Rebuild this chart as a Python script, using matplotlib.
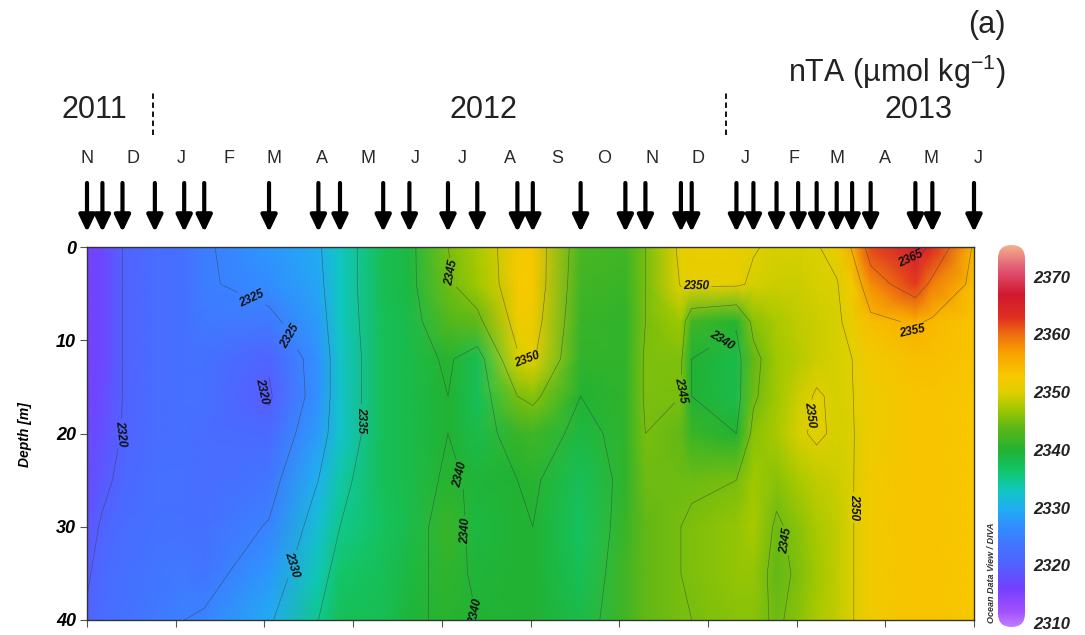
import matplotlib
matplotlib.use('Agg')
import matplotlib.pyplot as plt
import matplotlib.dates as mdates
from matplotlib.colors import LinearSegmentedColormap, Normalize
from matplotlib.patches import FancyBboxPatch
from matplotlib.ticker import LinearLocator
import numpy as np
import pandas as pd

plt.rcParams['font.family'] = ['Liberation Sans', 'DejaVu Sans']
plt.rcParams['mathtext.fontset'] = 'custom'
plt.rcParams['mathtext.rm'] = 'Liberation Sans'

# sampling dates (arrows on top) and nTA profiles at each station
station_dates = ['2011-11-01', '2011-11-11', '2011-11-24', '2011-12-15', '2012-01-03',
                 '2012-01-16', '2012-02-27', '2012-03-30', '2012-04-13', '2012-05-11',
                 '2012-05-28', '2012-06-22', '2012-07-11', '2012-08-06', '2012-08-16',
                 '2012-09-16', '2012-10-15', '2012-10-28', '2012-11-20', '2012-11-27',
                 '2012-12-26', '2013-01-06', '2013-01-21', '2013-02-04', '2013-02-16',
                 '2013-03-01', '2013-03-11', '2013-03-23', '2013-04-21', '2013-05-02',
                 '2013-05-29']
depths = [0, 4, 8, 12, 16, 20, 25, 30, 35, 40]
profiles = [
    [2316, 2316, 2316, 2316, 2316.5, 2317, 2317.5, 2318.5, 2319.5, 2320.5],
    [2317, 2317, 2317, 2317, 2317.5, 2318, 2319, 2320.5, 2321.5, 2322],
    [2320, 2320, 2320, 2320, 2320, 2320.2, 2321, 2322, 2322.5, 2323],
    [2322, 2322, 2322, 2322, 2322, 2322, 2322.5, 2323, 2323.5, 2324],
    [2323, 2323, 2323, 2323, 2322.5, 2322.5, 2322.5, 2323, 2324, 2325],
    [2324.5, 2324.5, 2324, 2323, 2322.5, 2322, 2322, 2322.5, 2323.5, 2325.5],
    [2327.5, 2326.5, 2324, 2320.5, 2319.5, 2321.5, 2323.5, 2325.3, 2327.5, 2329.5],
    [2329.5, 2329, 2328, 2327, 2327, 2328, 2330, 2332, 2333.5, 2335],
    [2333, 2333, 2333, 2332.5, 2332.5, 2332.5, 2334, 2335, 2336.5, 2337.5],
    [2338, 2338, 2337.5, 2337.5, 2337.5, 2337.5, 2337.5, 2337, 2337.5, 2338],
    [2339, 2339, 2338.5, 2338.5, 2338.5, 2338.5, 2338.5, 2338.5, 2339, 2339.5],
    [2345, 2344.5, 2343, 2340.5, 2340, 2340, 2340.5, 2341.5, 2341, 2340.5],
    [2347.5, 2347, 2344, 2338, 2337.5, 2338.5, 2339.5, 2339, 2339.5, 2340],
    [2352.5, 2352.5, 2351.5, 2349.5, 2345, 2341.5, 2340, 2340, 2340, 2340],
    [2353, 2353, 2352, 2350.5, 2346, 2342, 2340.5, 2340, 2340, 2340],
    [2342.5, 2342, 2341.5, 2341, 2340, 2339, 2337.5, 2337, 2337.5, 2338.5],
    [2342, 2341.5, 2341, 2341, 2341, 2341, 2341, 2341.5, 2342, 2342],
    [2345, 2345, 2345, 2345.5, 2345.5, 2345, 2344.5, 2344, 2344, 2344],
    [2350.8, 2350.2, 2347, 2345.5, 2345, 2344, 2344.5, 2345, 2345, 2345],
    [2351, 2350.5, 2342, 2340, 2340, 2341.5, 2344.5, 2345.5, 2345.5, 2345],
    [2351, 2350.5, 2340.5, 2338.5, 2338.5, 2340, 2345, 2346.5, 2346.5, 2346],
    [2350.2, 2349.5, 2346, 2344, 2344.5, 2346, 2347, 2347.5, 2346.5, 2346],
    [2349.5, 2349, 2347.5, 2347, 2347, 2347.5, 2346, 2344.5, 2344, 2344.5],
    [2349.5, 2349, 2348.5, 2348, 2349, 2349.5, 2347.5, 2346, 2345.5, 2346],
    [2349.8, 2349.5, 2349, 2349, 2350.3, 2350.5, 2348.5, 2347.5, 2347, 2347.5],
    [2351, 2349.8, 2349.5, 2349.5, 2349.5, 2349.5, 2349, 2348.5, 2348.5, 2348.5],
    [2355.5, 2352, 2351, 2350, 2349.9, 2349.8, 2349.8, 2349.8, 2349.8, 2349.8],
    [2362, 2358, 2354, 2352, 2351.5, 2351.5, 2352, 2352, 2352, 2352],
    [2367, 2362.5, 2355.5, 2354, 2353.5, 2353.5, 2353.5, 2353.5, 2353.5, 2353.5],
    [2364, 2359, 2354.5, 2354, 2353.5, 2353.5, 2353.5, 2353.5, 2353.5, 2353.5],
    [2354.5, 2354, 2353.5, 2353.5, 2353, 2353, 2353, 2353, 2353, 2353],
]

month_letters = ['N', 'D', 'J', 'F', 'M', 'A', 'M', 'J', 'J', 'A', 'S', 'O',
                 'N', 'D', 'J', 'F', 'M', 'A', 'M', 'J']
years = ['2011', '2012', '2013']
year_centres = ['2011-11-06', '2012-07-15', '2013-04-23']
year_breaks = ['2011-12-14', '2012-12-19']
contour_levels = [2320, 2325, 2330, 2335, 2340, 2345, 2350, 2355, 2360, 2365]
cbar_ticks = [2310, 2320, 2330, 2340, 2350, 2360, 2370]
vmin, vmax = 2309.3, 2375.5

# where the isoline labels sit (date, depth)
label_spots = [('2011-11-24', 20), ('2012-02-16', 5.4), ('2012-02-28', 10.8),
               ('2012-02-23', 15.5), ('2012-04-19', 18.5), ('2012-03-12', 34),
               ('2012-06-24', 2.8), ('2012-08-13', 11.9), ('2012-07-15', 23.6),
               ('2012-07-18', 30.3), ('2012-08-16', 37.8), ('2012-11-30', 2.5),
               ('2012-12-13', 9), ('2012-11-21', 15.3), ('2013-02-14', 18),
               ('2013-01-29', 31.4), ('2013-03-14', 27.9), ('2013-04-12', 2.3),
               ('2013-04-14', 10)]

# ODV-like rainbow
cmap_stops = [(2309.3, '#c27cff'), (2312, '#a050ff'), (2316, '#7440ff'), (2320, '#5262ff'),
              (2323, '#4472ff'), (2327, '#3092ff'), (2330, '#20b0f0'), (2333, '#10c8c0'),
              (2336, '#10c870'), (2340, '#22b232'), (2344, '#60b818'), (2347, '#a0c800'),
              (2350, '#e0d000'), (2353, '#f8c800'), (2357, '#f8a000'), (2360, '#f07010'),
              (2363, '#e03020'), (2367, '#d01830'), (2371, '#e05070'), (2375.5, '#f2ae8c')]
cmap = LinearSegmentedColormap.from_list(
    'odv', [((v - vmin) / (vmax - vmin), c) for v, c in cmap_stops])
norm = Normalize(vmin, vmax)


def to_num(dates):
    return mdates.date2num(pd.to_datetime(dates).to_pydatetime())


x = to_num(station_dates)
nta = np.array(profiles).T

W, H = 1085, 635
fig = plt.figure(figsize=(W / 100, H / 100), dpi=100)
ax = fig.add_axes([87 / W, 1 - 620 / H, (974 - 87) / W, (620 - 247) / H])

ax.pcolormesh(x, depths, nta, shading='gouraud', cmap=cmap, norm=norm)
cs = ax.contour(x, depths, nta, levels=contour_levels, colors='#3a3a3a',
                linewidths=0.45, alpha=0.6)
spots = [(to_num([d])[0], z) for d, z in label_spots]
labels = ax.clabel(cs, manual=spots, fmt='%d', fontsize=8.5, inline=True,
                   inline_spacing=2)
for t in labels:
    t.set_fontweight('bold')
    t.set_fontstyle('italic')
    t.set_color('#111111')

ax.set_xlim(x[0], x[-1])
ax.set_ylim(40, 0)
ax.set_yticks([0, 10, 20, 30, 40])
ax.xaxis.set_major_locator(LinearLocator(11))
ax.set_xticklabels([])
ax.tick_params(axis='both', direction='out', length=5, width=0.8, color='#555555')
ax.tick_params(axis='y', labelsize=13, pad=3)
for lbl in ax.get_yticklabels():
    lbl.set_fontweight('bold')
    lbl.set_fontstyle('italic')
for s in ax.spines.values():
    s.set_color('#333333')
    s.set_linewidth(1)

fig.text(25 / W, 1 - 435 / H, 'Depth [m]', rotation=90, ha='center', va='center',
         fontsize=10, fontweight='bold', fontstyle='italic')

# sampling arrows, months and years above the section
trans = ax.get_xaxis_transform()
ax_h = 620 - 247
for d in x:
    ax.annotate('', xy=(d, 1 + 15 / ax_h), xycoords=trans,
                xytext=(d, 1 + 64 / ax_h), textcoords=trans,
                arrowprops=dict(arrowstyle='-|>,head_length=0.5,head_width=0.24',
                                lw=3, color='black', shrinkA=0, shrinkB=0,
                                mutation_scale=20))

month_x = to_num(pd.date_range('2011-11-01', periods=len(month_letters), freq='MS'))
for mx, m in zip(month_x, month_letters):
    ax.text(mx, 1 + 89 / ax_h, m, transform=trans, ha='center', va='center',
            fontsize=13, color='#2a2a2a', clip_on=False)

for yx, yr in zip(to_num(year_centres), years):
    ax.text(yx, 1 + 137 / ax_h, yr, transform=trans, ha='center', va='center',
            fontsize=22, color='#222222', clip_on=False)

for bx in to_num(year_breaks):
    ax.plot([bx, bx], [1 + 112 / ax_h, 1 + 155 / ax_h], transform=trans,
            color='black', lw=1.3, ls=(0, (3, 2)), clip_on=False)

fig.text(1006 / W, 1 - 25 / H, '(a)', ha='right', va='center', fontsize=22,
         color='#222222')
fig.text(1006 / W, 1 - 72 / H, r'nTA (µmol kg$^{-1}$)', ha='right', va='center',
         fontsize=22, color='#222222')

# colour bar with rounded ends
cax = fig.add_axes([998 / W, 1 - 627 / H, 27 / W, (627 - 245) / H])
grad = np.linspace(vmin, vmax, 512)[:, None]
im = cax.imshow(grad, aspect='auto', origin='lower', cmap=cmap, norm=norm,
                extent=[0, 1, vmin, vmax])
clip = FancyBboxPatch((0, 0), 1, 1, boxstyle='round,pad=0,rounding_size=0.5',
                      mutation_aspect=27 / (627 - 245), transform=cax.transAxes,
                      facecolor='none', edgecolor='none')
cax.add_patch(clip)
im.set_clip_path(clip)
cax.set_xlim(0, 1)
cax.set_ylim(vmin, vmax)
cax.set_xticks([])
cax.yaxis.tick_right()
cax.set_yticks(cbar_ticks)
cax.tick_params(axis='y', length=0, labelsize=12, pad=6)
for lbl in cax.get_yticklabels():
    lbl.set_fontweight('bold')
    lbl.set_fontstyle('italic')
    lbl.set_color('#222222')
for s in cax.spines.values():
    s.set_visible(False)

fig.text(991 / W, 1 - 623 / H, 'Ocean Data View / DIVA', rotation=90, ha='center',
         va='bottom', fontsize=6.5, fontweight='bold', fontstyle='italic',
         color='#333333')

fig.savefig('out.png', dpi=100)
